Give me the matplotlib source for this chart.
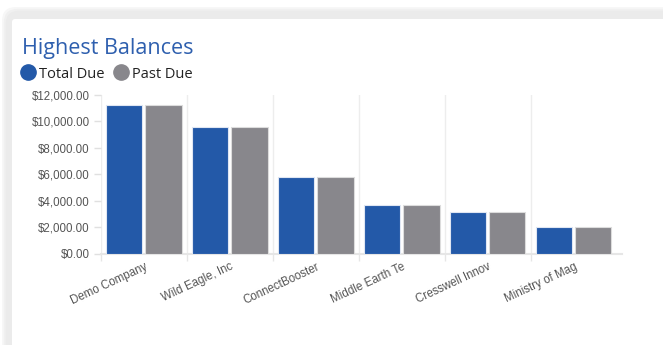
import numpy as np
import matplotlib
matplotlib.use("Agg")
import matplotlib.pyplot as plt
from matplotlib.patches import FancyBboxPatch

# data
companies = ["Demo Company", "Wild Eagle, Inc", "ConnectBooster",
             "Middle Earth Te", "Cresswell Innov", "Ministry of Mag"]
total_due = [11250, 9600, 5780, 3680, 3130, 2020]
past_due = [11250, 9600, 5780, 3680, 3130, 2020]
yticks = [0, 2000, 4000, 6000, 8000, 10000, 12000]

BLUE = "#2359a8"
GRAY = "#88878c"
W, H = 663, 345

fig = plt.figure(figsize=(W / 100, H / 100), dpi=100)
fig.patch.set_facecolor("white")

# background layer in pixel coordinates (card, title, legend)
bg = fig.add_axes([0, 0, 1, 1])
bg.set_xlim(0, W)
bg.set_ylim(H, 0)
bg.axis("off")
for off, col in [(0, "#f7f7f7"), (3, "#f0f0f0"), (6, "#ebebeb")]:
    bg.add_patch(FancyBboxPatch((2 + off * 0.6, 7 + off * 0.6), 700, 400,
                                boxstyle="round,pad=0,rounding_size=14",
                                fc=col, ec="none"))
bg.add_patch(FancyBboxPatch((12, 19), 700, 400,
                            boxstyle="round,pad=0,rounding_size=3",
                            fc="white", ec="none"))

bg.text(22, 54, "Highest Balances", fontsize=15.5, color="#2e5fae",
        family="Open Sans", va="baseline", ha="left")
bg.plot([28], [72], "o", ms=11, color=BLUE)
bg.text(39, 78, "Total Due", fontsize=10.5, color="#222222",
        family="Open Sans", va="baseline")
bg.plot([121], [72], "o", ms=11, color=GRAY)
bg.text(132, 78, "Past Due", fontsize=10.5, color="#222222",
        family="Open Sans", va="baseline")

# chart
ax = fig.add_axes([101 / W, (H - 253.7) / H, (622 - 101) / W, 158.7 / H])
x = np.arange(len(companies))
bw = 0.42
gap = 0.035
ax.bar(x - (bw + gap) / 2, total_due, bw, color=BLUE, edgecolor="#dfe6f2",
       linewidth=0.8, zorder=3)
ax.bar(x + (bw + gap) / 2, past_due, bw, color=GRAY, edgecolor="#dcdcdc",
       linewidth=0.8, zorder=3)

ax.set_ylim(0, 12000)
ax.set_xlim(-0.5, 5.56)
ax.set_yticks(yticks)
ax.set_yticklabels(["${:,.2f}".format(v) for v in yticks])
ax.set_xticks(x)
ax.set_xticklabels(companies, rotation=25, ha="right", rotation_mode="anchor")
ax.set_xticks(np.arange(len(companies)) - 0.5, minor=True)

for s in ["top", "right", "left"]:
    ax.spines[s].set_visible(False)
ax.spines["bottom"].set_color("#e6e6e6")
ax.spines["bottom"].set_linewidth(1.5)

ax.grid(axis="x", which="minor", color="#ededed", lw=1, zorder=0)
ax.tick_params(axis="x", which="major", length=0, pad=5, labelsize=8.3,
               labelcolor="#555555")
ax.tick_params(axis="x", which="minor", length=5, color="#e6e6e6", width=1)
ax.tick_params(axis="y", length=5, color="#e0e0e0", width=1, pad=3,
               labelsize=8.3, labelcolor="#555555")
for lab in ax.get_xticklabels() + ax.get_yticklabels():
    lab.set_family("Liberation Sans")

fig.savefig("out.png", dpi=100)
